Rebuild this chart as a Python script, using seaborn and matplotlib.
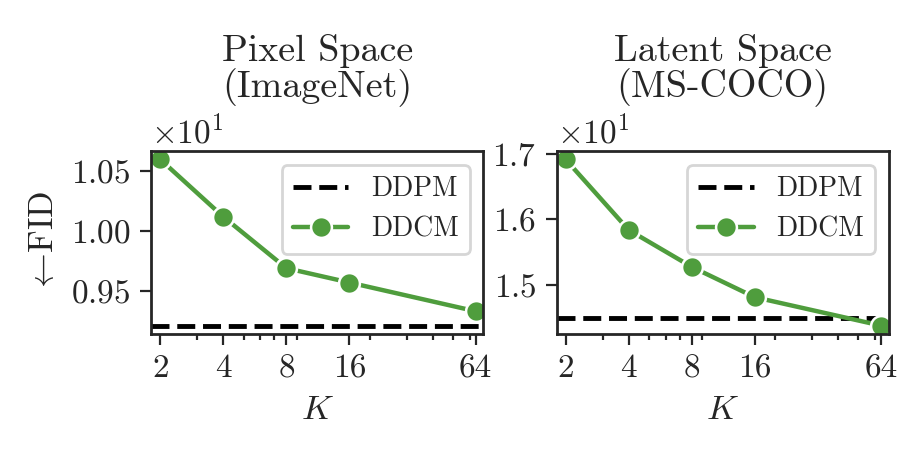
import matplotlib
matplotlib.use("Agg")
import matplotlib.pyplot as plt
import matplotlib.ticker as mticker
import pandas as pd
import seaborn as sns

# values
k_values = [2, 4, 8, 16, 64]
pixel_ddcm = [10.60, 10.12, 9.69, 9.57, 9.33]
pixel_ddpm = 9.21
latent_ddcm = [16.91, 15.84, 15.28, 14.82, 14.39]
latent_ddpm = 14.50
titles = ["Pixel Space\n(ImageNet)", "Latent Space\n(MS-COCO)"]

green = "#4f9d3d"

sns.set_theme(style="ticks")
plt.rcParams["font.family"] = "serif"
plt.rcParams["font.serif"] = ["cmr10"]
plt.rcParams["mathtext.fontset"] = "cm"
plt.rcParams["axes.formatter.use_mathtext"] = True
plt.rcParams["axes.unicode_minus"] = False
plt.rcParams["axes.edgecolor"] = ".15"
plt.rcParams["axes.linewidth"] = 1.0

fig, axes = plt.subplots(1, 2, figsize=(4.61, 2.29), dpi=200)
fig.subplots_adjust(left=0.164, right=0.964, bottom=0.271, top=0.670, wspace=0.22)

panels = [(pixel_ddcm, pixel_ddpm, 0.5), (latent_ddcm, latent_ddpm, 1.0)]
for ax, (ddcm, ddpm, step), title in zip(axes, panels, titles):
    df = pd.DataFrame({"K": k_values, "FID": ddcm})
    ax.axhline(ddpm, color="black", linestyle="--", linewidth=1.75, label="DDPM")
    sns.lineplot(data=df, x="K", y="FID", ax=ax, color=green, marker="o",
                 markersize=7.5, markeredgecolor="white", markeredgewidth=0.9,
                 linewidth=1.6, label="DDCM")
    ax.set_xscale("log")
    ax.set_xlim(1.81, 69.8)
    ax.set_xticks(k_values)
    ax.xaxis.set_major_formatter(mticker.FixedFormatter([str(k) for k in k_values]))
    ax.xaxis.set_minor_formatter(mticker.NullFormatter())
    ax.yaxis.set_major_locator(mticker.MultipleLocator(step))
    fmt = mticker.ScalarFormatter(useMathText=True)
    fmt.set_powerlimits((0, 0))
    ax.yaxis.set_major_formatter(fmt)
    ax.yaxis.get_offset_text().set_fontsize(12)
    ax.tick_params(axis="both", which="major", labelsize=12, length=3.8, width=0.8)
    ax.tick_params(axis="both", which="minor", length=2, width=0.8)
    ax.set_xlabel("$K$", fontsize=12.5)
    ax.set_ylabel("")
    ax.set_title(title, fontsize=13.7, linespacing=1.0, y=1.0, pad=19.4)
    ax.legend(loc="upper right", fontsize=10, frameon=True)

axes[0].set_ylabel(r"$\leftarrow\!$FID", fontsize=12.5)

fig.savefig("out.png", dpi=200)
